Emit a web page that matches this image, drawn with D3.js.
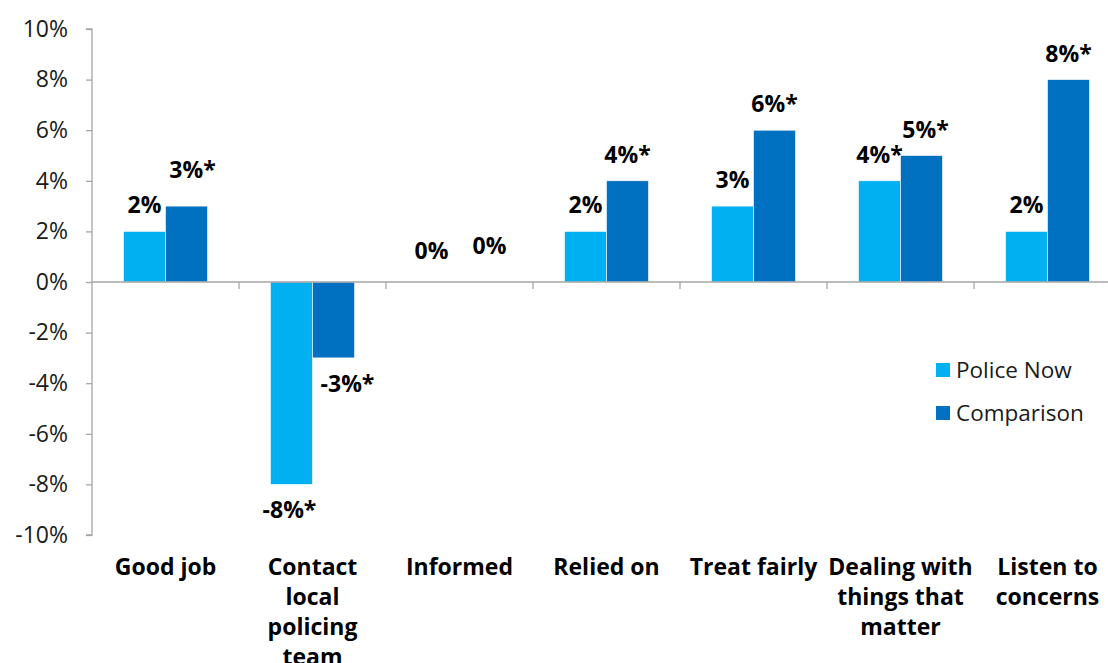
<!DOCTYPE html>
<html>
<head>
<meta charset="utf-8">
<script src="https://cdn.jsdelivr.net/npm/d3@7"></script>
<style>
  html, body { margin: 0; padding: 0; background: #fff; }
  svg { display: block; font-family: "Open Sans", "Noto Sans", sans-serif; }
</style>
</head>
<body>
<svg id="chart" width="1108" height="663"></svg>
<script>
const categories = ["Good job", "Contact\nlocal\npolicing\nteam", "Informed", "Relied on", "Treat fairly", "Dealing with\nthings that\nmatter", "Listen to\nconcerns"];
const series = ["Police Now", "Comparison"];
const policeNow = [0.02, -0.08, 0.00, 0.02, 0.03, 0.04, 0.02];
const comparison = [0.03, -0.03, 0.00, 0.04, 0.06, 0.05, 0.08];
const policeNowLabels = ["2%", "-8%*", "0%", "2%", "3%", "4%*", "2%"];
const comparisonLabels = ["3%*", "-3%*", "0%", "4%*", "6%*", "5%*", "8%*"];
const yTicks = [-0.10, -0.08, -0.06, -0.04, -0.02, 0, 0.02, 0.04, 0.06, 0.08, 0.10];
const colors = ["#00B0F0", "#0070C0"];

const svg = d3.select("#chart");
const plotLeft = 92, plotTop = 29, plotBottom = 535;

const y = d3.scaleLinear().domain([-0.10, 0.10]).range([plotBottom, plotTop]);
const x = d3.scaleBand().domain(categories).range([plotLeft, plotLeft + 147 * categories.length]).padding(0);
const xs = d3.scaleBand().domain(series).range([0, x.bandwidth()]).paddingInner(0).paddingOuter(0.75);

const valuesBySeries = [policeNow, comparison];
const labelsBySeries = [policeNowLabels, comparisonLabels];

const rows = [];
series.forEach((s, si) => {
  categories.forEach((c, ci) => {
    rows.push({ s, si, ci, c, v: valuesBySeries[si][ci], label: labelsBySeries[si][ci] });
  });
});

// Bars
svg.append("g").selectAll("rect").data(rows).join("rect")
  .attr("x", d => x(d.c) + xs(d.s))
  .attr("width", xs.bandwidth())
  .attr("y", d => y(Math.max(0, d.v)))
  .attr("height", d => Math.abs(y(d.v) - y(0)))
  .attr("fill", d => colors[d.si])
  .attr("stroke", "#ffffff")
  .attr("stroke-width", 0.6);

// Y axis
const yAxis = d3.axisLeft(y).tickValues(yTicks).tickSize(6).tickPadding(18)
  .tickFormat(d => Math.round(d * 100) + "%");
const yg = svg.append("g").attr("transform", `translate(${plotLeft},0)`).call(yAxis);
yg.select(".domain").attr("stroke", "#A6A6A6").attr("stroke-width", 1.3).attr("d", `M-6,${plotTop}H0V${plotBottom}H-6`);
yg.selectAll(".tick line").attr("stroke", "#A6A6A6").attr("stroke-width", 1.3);
yg.selectAll(".tick text").attr("font-size", 23).attr("fill", "#1a1a1a")
  .attr("font-family", "'Open Sans', sans-serif");

// Zero line (category axis) with boundary ticks
const xAxis = d3.axisBottom(x).tickSize(0).tickFormat("");
const xg = svg.append("g").attr("transform", `translate(0,${y(0)})`).call(xAxis);
xg.select(".domain").attr("stroke", "#A6A6A6").attr("stroke-width", 1.3).attr("d", `M${plotLeft},0H1108`);
xg.selectAll(".tick").remove();
xg.selectAll(".bnd").data(categories.slice(1)).join("line")
  .attr("x1", d => x(d)).attr("x2", d => x(d))
  .attr("y1", 0).attr("y2", 7)
  .attr("stroke", "#A6A6A6").attr("stroke-width", 1.3);

// Category labels
const catG = svg.append("g");
categories.forEach(c => {
  const lines = c.split("\n");
  const t = catG.append("text")
    .attr("x", x(c) + x.bandwidth() / 2)
    .attr("y", 575)
    .attr("text-anchor", "middle")
    .attr("font-size", 23)
    .attr("font-weight", "bold")
    .attr("fill", "#000");
  lines.forEach((ln, i) => {
    t.append("tspan").attr("x", x(c) + x.bandwidth() / 2).attr("dy", i === 0 ? 0 : 30).text(ln);
  });
});

// Data labels (small manual nudges as in the original layout; key = seriesIndex|categoryIndex)
const nudge = { "1|0": [6, -10], "1|1": [14, 0], "0|1": [-2, 0], "0|2": [-7, 2], "1|2": [9, -3], "1|5": [4, 0] };
const nd = d => nudge[d.si + "|" + d.ci] || [0, 0];
svg.append("g").selectAll("text").data(rows).join("text")
  .attr("x", d => x(d.c) + xs(d.s) + xs.bandwidth() / 2 + nd(d)[0])
  .attr("y", d => (d.v > 0 ? y(d.v) - 18 : (d.v < 0 ? y(d.v) + 34 : y(0) - 25)) + nd(d)[1])
  .attr("text-anchor", "middle")
  .attr("font-size", 23)
  .attr("font-weight", "bold")
  .attr("fill", "#000")
  .text(d => d.label);

// Legend
const lg = svg.append("g").attr("transform", "translate(936,363)");
series.forEach((s, i) => {
  const g = lg.append("g").attr("transform", `translate(0,${i * 43})`);
  g.append("rect").attr("width", 14).attr("height", 14).attr("fill", colors[i]);
  g.append("text").attr("x", 20).attr("y", 7).attr("dy", "0.35em")
    .attr("font-size", 22.5).attr("fill", "#1a1a1a").text(s);
});
</script>
</body>
</html>
